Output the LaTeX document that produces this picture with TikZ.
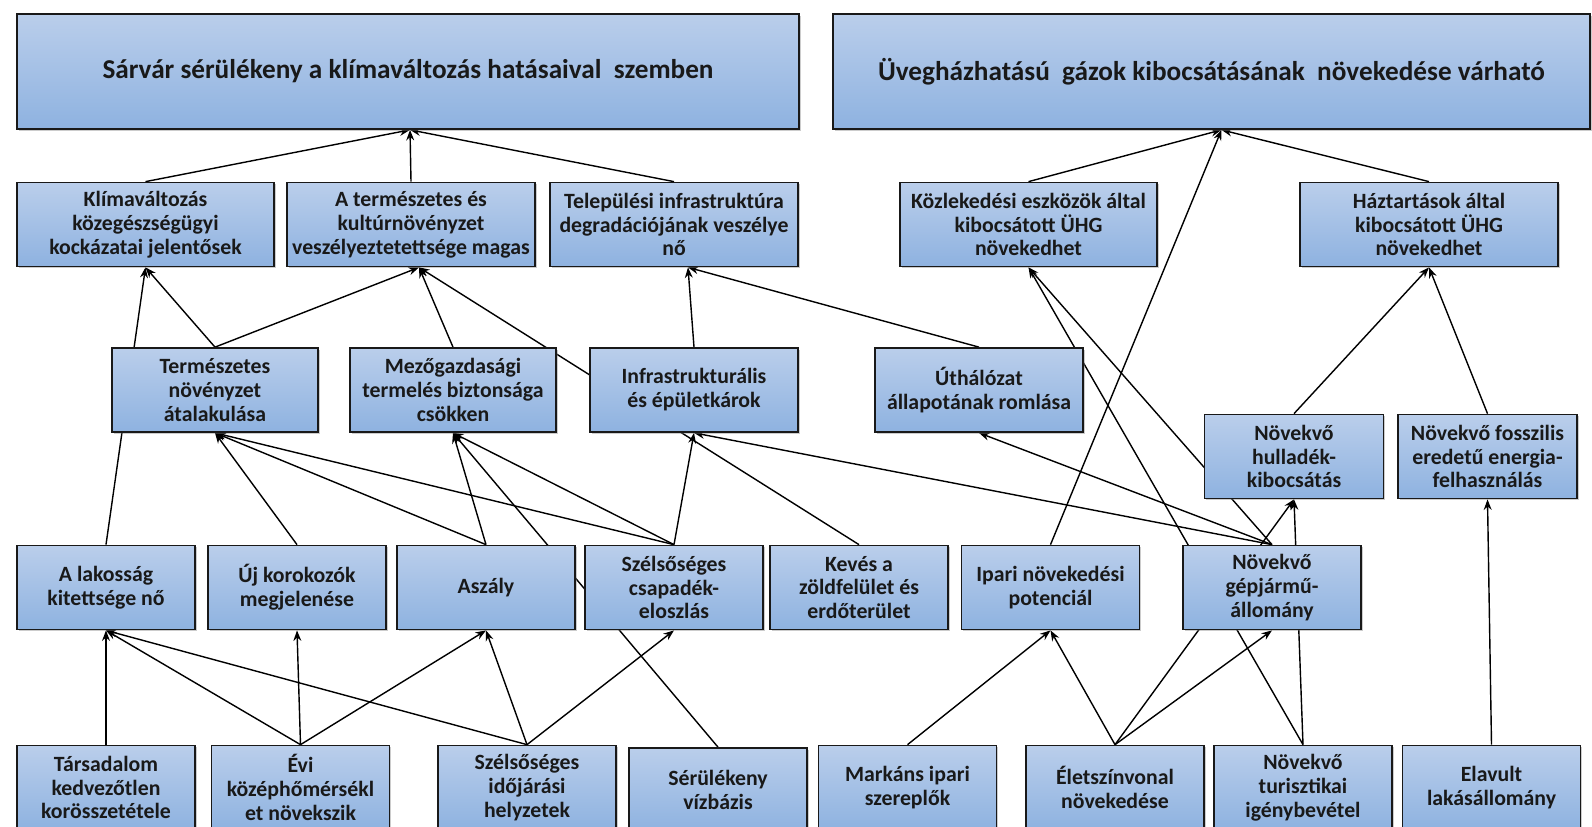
\documentclass[tikz,border=0pt]{standalone}
\usepackage{fontspec}
\setmainfont{Carlito}
\usetikzlibrary{arrows.meta,backgrounds,shadows}
\definecolor{boxtop}{RGB}{186,206,235}
\definecolor{boxbot}{RGB}{142,178,224}
\tikzset{
  box/.style={draw=black!90, line width=1pt, top color=boxtop, bottom color=boxbot,
    align=center, text=black!90, inner sep=0.5pt, minimum height=1.68cm,
    font=\bfseries\fontsize{12.4}{13.6}\selectfont,
    drop shadow={shadow xshift=1pt, shadow yshift=-1pt, opacity=.4}},
  bigbox/.style={box, minimum height=2.3cm, font=\bfseries\fontsize{15.5}{18}\selectfont},
  arr/.style={-{Stealth[length=6pt,width=4.5pt]}, line width=0.8pt},
}
\begin{document}
\begin{tikzpicture}[x=0.02cm,y=-0.02cm]
  \useasboundingbox (0,0) rectangle (1592,826);
  % goals
  \node[bigbox, minimum width=15.64cm] (top1) at (408,71.5) {Sárvár sérülékeny a klímaváltozás hatásaival\ \ szemben};
  \node[bigbox, minimum width=15.14cm] (top2) at (1211.5,71.5) {Üvegházhatású\ \ gázok kibocsátásának\ \ növekedése várható};
  % second row
  \node[box, minimum width=5.14cm] (k1) at (145.5,224.5) {Klímaváltozás\\közegészségügyi\\kockázatai jelentősek};
  \node[box, minimum width=4.96cm] (k2) at (411,224.5) {A természetes és\\kultúrnövényzet\\veszélyeztetettsége magas};
  \node[box, minimum width=4.96cm] (k3) at (674,224.5) {Települési infrastruktúra\\degradációjának veszélye\\nő};
  \node[box, minimum width=5.14cm] (k4) at (1028.5,224.5) {Közlekedési eszközök által\\kibocsátott ÜHG\\növekedhet};
  \node[box, minimum width=5.16cm] (k5) at (1429,224.5) {Háztartások által\\kibocsátott ÜHG\\növekedhet};
  % third row
  \node[box, minimum width=4.12cm] (t1) at (215,390) {Természetes\\növényzet\\átalakulása};
  \node[box, minimum width=4.12cm] (t2) at (453,390) {Mezőgazdasági\\termelés biztonsága\\csökken};
  \node[box, minimum width=4.16cm] (t3) at (694,390) {Infrastrukturális\\és épületkárok};
  \node[box, minimum width=4.16cm] (t4) at (979,390) {Úthálózat\\állapotának romlása};
  \node[box, minimum width=3.58cm] (n1) at (1294,456.5) {Növekvő\\hulladék-\\kibocsátás};
  \node[box, minimum width=3.58cm] (n2) at (1487.5,456.5) {Növekvő fosszilis\\eredetű energia-\\felhasználás};
  % fourth row
  \node[box, minimum width=3.56cm] (a1) at (106,587.5) {A lakosság\\kitettsége nő};
  \node[box, minimum width=3.56cm] (a2) at (297,587.5) {Új korokozók\\megjelenése};
  \node[box, minimum width=3.56cm] (a3) at (486,587.5) {Aszály};
  \node[box, minimum width=3.56cm] (a4) at (674,587.5) {Szélsőséges\\csapadék-\\eloszlás};
  \node[box, minimum width=3.56cm] (a5) at (859,587.5) {Kevés a\\zöldfelület és\\erdőterület};
  \node[box, minimum width=3.56cm] (a6) at (1050.5,587.5) {Ipari növekedési\\potenciál};
  \node[box, minimum width=3.56cm] (a7) at (1272,587.5) {Növekvő\\gépjármű-\\állomány};
  % bottom row
  \node[box, minimum width=3.56cm] (b1) at (106,787.5) {Társadalom\\kedvezőtlen\\korösszetétele};
  \node[box, minimum width=3.56cm] (b2) at (300.5,787.5) {Évi\\középhőmérsékl\\et növekszik};
  \node[box, minimum width=3.56cm] (b3) at (527,787.5) {Szélsőséges\\időjárási\\helyzetek};
  \node[box, minimum width=3.56cm] (b4) at (718,790) {Sérülékeny\\vízbázis};
  \node[box, minimum width=3.56cm] (b5) at (907.5,787.5) {Markáns ipari\\szereplők};
  \node[box, minimum width=3.56cm] (b6) at (1115,787.5) {Életszínvonal\\növekedése};
  \node[box, minimum width=3.56cm] (b7) at (1303,787.5) {Növekvő\\turisztikai\\igénybevétel};
  \node[box, minimum width=3.56cm] (b8) at (1491.5,787.5) {Elavult\\lakásállomány};
  % connectors, behind the boxes
  \begin{scope}[on background layer]
    \foreach \s/\t/\d in {k1/top1/2, k2/top1/2, k3/top1/2, k4/top2/10, k5/top2/10, a6/top2/10,
        t1/k1/0, a1/k1/0, t1/k2/8, t2/k2/8, a5/k2/8, t3/k3/14, t4/k3/14, n1/k5/0, n2/k5/0,
        a7/k4/0, b7/k4/0, a2/t1/0, a3/t1/0, a4/t1/0, a3/t2/0, a4/t2/0, b4/t2/0,
        a4/t3/0, a7/t3/0, a7/t4/0, b6/n1/0, b7/n1/0, b8/n2/0,
        b1/a1/0, b2/a1/0, b3/a1/0, b2/a2/0, b2/a3/0, b3/a3/0, b3/a4/0,
        b5/a6/0, b6/a6/0, b6/a7/0}
      \draw[arr] (\s.north) -- ([xshift=\d*0.02cm]\t.south);
  \end{scope}
\end{tikzpicture}
\end{document}
